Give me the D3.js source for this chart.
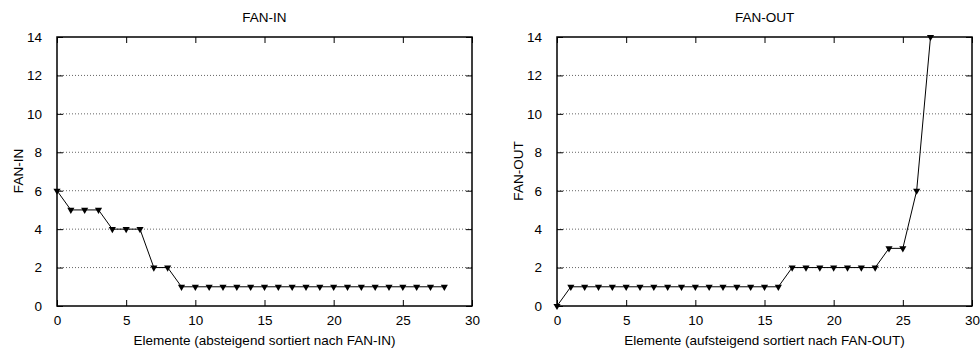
<!DOCTYPE html>
<html>
<head>
<meta charset="utf-8">
<script src="https://cdn.jsdelivr.net/npm/d3@7"></script>
<style>
  body { margin: 0; background: #fff; }
  svg { display: block; font-family: "Liberation Sans", Arial, sans-serif; }
</style>
</head>
<body>
<svg id="chart" width="980" height="352"></svg>
<script>
// data
const fanIn = [6, 5, 5, 5, 4, 4, 4, 2, 2, 1, 1, 1, 1, 1, 1, 1, 1, 1, 1, 1, 1, 1, 1, 1, 1, 1, 1, 1, 1]
const fanOut = [0, 1, 1, 1, 1, 1, 1, 1, 1, 1, 1, 1, 1, 1, 1, 1, 1, 2, 2, 2, 2, 2, 2, 2, 3, 3, 6, 14]
const xTicks = [0, 5, 10, 15, 20, 25, 30]
const yTicks = [0, 2, 4, 6, 8, 10, 12, 14]
const gridTicks = [2, 4, 6, 8, 10, 12]

const panels = [
  { title: 'FAN-IN', ylabel: 'FAN-IN', xlabel: 'Elemente (absteigend sortiert nach FAN-IN)', values: fanIn, left: 57 },
  { title: 'FAN-OUT', ylabel: 'FAN-OUT', xlabel: 'Elemente (aufsteigend sortiert nach FAN-OUT)', values: fanOut, left: 557 },
]

const svg = d3.select('#chart')
const plotTop = 37, plotBottom = 306, plotW = 415
const fs = 13.5

panels.forEach(p => {
  const x = d3.scaleLinear().domain([0, 30]).range([p.left, p.left + plotW])
  const y = d3.scaleLinear().domain([0, 14]).range([plotBottom, plotTop])
  const g = svg.append('g')

  // dotted grid
  g.selectAll('line.grid').data(gridTicks).enter().append('line')
    .attr('x1', x(0)).attr('x2', x(30))
    .attr('y1', d => y(d)).attr('y2', d => y(d))
    .attr('stroke', '#666').attr('stroke-width', 1).attr('stroke-dasharray', '1,2')

  // axes with inward ticks (mirrored like gnuplot)
  const fmt = d3.format('d')
  g.append('g').attr('transform', `translate(0,${plotBottom})`)
    .call(d3.axisBottom(x).tickValues(xTicks).tickSizeInner(-6).tickSizeOuter(0).tickPadding(9).tickFormat(fmt))
  g.append('g').attr('transform', `translate(0,${plotTop})`)
    .call(d3.axisTop(x).tickValues(xTicks).tickSizeInner(-6).tickSizeOuter(0).tickFormat(''))
  g.append('g').attr('transform', `translate(${p.left},0)`)
    .call(d3.axisLeft(y).tickValues(yTicks).tickSizeInner(-6).tickSizeOuter(0).tickPadding(15).tickFormat(fmt))
  g.append('g').attr('transform', `translate(${p.left + plotW},0)`)
    .call(d3.axisRight(y).tickValues(yTicks).tickSizeInner(-6).tickSizeOuter(0).tickFormat(''))
  g.selectAll('.domain').remove()
  g.selectAll('.tick line').attr('stroke', '#000')
  g.selectAll('.tick text').attr('font-size', fs).attr('fill', '#000').attr('font-family', '"Liberation Sans", Arial, sans-serif')

  // frame
  g.append('rect').attr('x', x(0)).attr('y', plotTop).attr('width', plotW).attr('height', plotBottom - plotTop)
    .attr('fill', 'none').attr('stroke', '#000').attr('stroke-width', 1.5)

  // line
  const line = d3.line().x((d, i) => x(i)).y(d => y(d))
  g.append('path').datum(p.values).attr('d', line)
    .attr('fill', 'none').attr('stroke', '#000').attr('stroke-width', 1)

  // downward triangles
  const tri = d3.symbol().type(d3.symbolTriangle).size(22)
  g.selectAll('path.pt').data(p.values).enter().append('path')
    .attr('d', tri)
    .attr('transform', (d, i) => `translate(${x(i)},${y(d)}) rotate(180)`)
    .attr('fill', '#000')

  // texts
  g.append('text').attr('x', x(15)).attr('y', 22).attr('text-anchor', 'middle')
    .attr('font-size', fs).text(p.title)
  g.append('text').attr('x', x(15)).attr('y', 345).attr('text-anchor', 'middle')
    .attr('font-size', fs).text(p.xlabel)
  g.append('text').attr('transform', `translate(${p.left - 34},171) rotate(-90)`)
    .attr('text-anchor', 'middle').attr('font-size', fs).text(p.ylabel)
})
</script>
</body>
</html>
